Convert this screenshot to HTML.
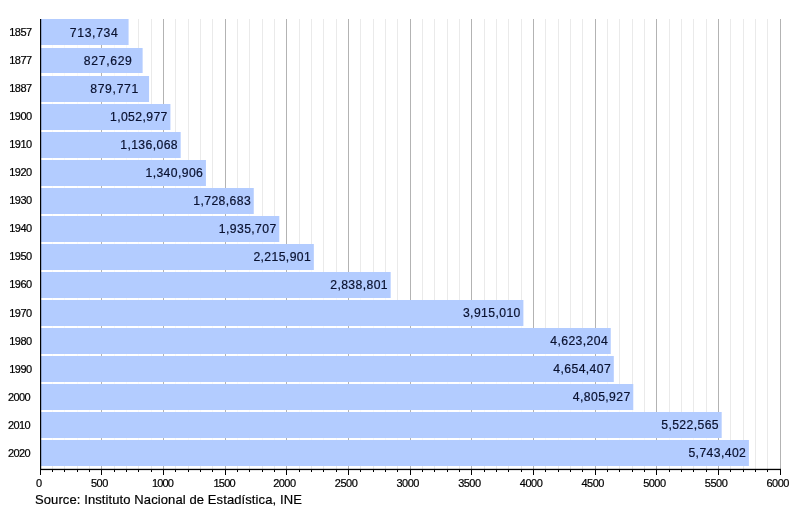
<!DOCTYPE html>
<html><head><meta charset="utf-8"><title>Population</title>
<style>
html,body{margin:0;padding:0;background:#fff;}
body{width:800px;height:508px;overflow:hidden;}
svg{display:block;}
text{font-family:"Liberation Sans",Arial,sans-serif;fill:#000;stroke:#000;stroke-width:0.2px;}
.yl{font-size:11px;letter-spacing:-0.55px;}
.xl{font-size:11px;letter-spacing:-0.5px;}
.vl{font-size:12.2px;letter-spacing:0.4px;fill:#0a1230;stroke:#0a1230;}
.src{font-size:13px;letter-spacing:0.1px;}
</style></head><body>
<svg width="800" height="508" viewBox="0 0 800 508">
<rect width="800" height="508" fill="#fff"/>

<g shape-rendering="crispEdges">
<rect x="52" y="19" width="1" height="450" fill="#eaeaea"/>
<rect x="64" y="19" width="1" height="450" fill="#eaeaea"/>
<rect x="77" y="19" width="1" height="450" fill="#eaeaea"/>
<rect x="89" y="19" width="1" height="450" fill="#eaeaea"/>
<rect x="114" y="19" width="1" height="450" fill="#eaeaea"/>
<rect x="126" y="19" width="1" height="450" fill="#eaeaea"/>
<rect x="138" y="19" width="1" height="450" fill="#eaeaea"/>
<rect x="151" y="19" width="1" height="450" fill="#eaeaea"/>
<rect x="175" y="19" width="1" height="450" fill="#eaeaea"/>
<rect x="188" y="19" width="1" height="450" fill="#eaeaea"/>
<rect x="200" y="19" width="1" height="450" fill="#eaeaea"/>
<rect x="212" y="19" width="1" height="450" fill="#eaeaea"/>
<rect x="237" y="19" width="1" height="450" fill="#eaeaea"/>
<rect x="249" y="19" width="1" height="450" fill="#eaeaea"/>
<rect x="262" y="19" width="1" height="450" fill="#eaeaea"/>
<rect x="274" y="19" width="1" height="450" fill="#eaeaea"/>
<rect x="299" y="19" width="1" height="450" fill="#eaeaea"/>
<rect x="311" y="19" width="1" height="450" fill="#eaeaea"/>
<rect x="323" y="19" width="1" height="450" fill="#eaeaea"/>
<rect x="336" y="19" width="1" height="450" fill="#eaeaea"/>
<rect x="360" y="19" width="1" height="450" fill="#eaeaea"/>
<rect x="373" y="19" width="1" height="450" fill="#eaeaea"/>
<rect x="385" y="19" width="1" height="450" fill="#eaeaea"/>
<rect x="397" y="19" width="1" height="450" fill="#eaeaea"/>
<rect x="422" y="19" width="1" height="450" fill="#eaeaea"/>
<rect x="434" y="19" width="1" height="450" fill="#eaeaea"/>
<rect x="447" y="19" width="1" height="450" fill="#eaeaea"/>
<rect x="459" y="19" width="1" height="450" fill="#eaeaea"/>
<rect x="484" y="19" width="1" height="450" fill="#eaeaea"/>
<rect x="496" y="19" width="1" height="450" fill="#eaeaea"/>
<rect x="508" y="19" width="1" height="450" fill="#eaeaea"/>
<rect x="521" y="19" width="1" height="450" fill="#eaeaea"/>
<rect x="545" y="19" width="1" height="450" fill="#eaeaea"/>
<rect x="558" y="19" width="1" height="450" fill="#eaeaea"/>
<rect x="570" y="19" width="1" height="450" fill="#eaeaea"/>
<rect x="582" y="19" width="1" height="450" fill="#eaeaea"/>
<rect x="607" y="19" width="1" height="450" fill="#eaeaea"/>
<rect x="619" y="19" width="1" height="450" fill="#eaeaea"/>
<rect x="632" y="19" width="1" height="450" fill="#eaeaea"/>
<rect x="644" y="19" width="1" height="450" fill="#eaeaea"/>
<rect x="669" y="19" width="1" height="450" fill="#eaeaea"/>
<rect x="681" y="19" width="1" height="450" fill="#eaeaea"/>
<rect x="693" y="19" width="1" height="450" fill="#eaeaea"/>
<rect x="706" y="19" width="1" height="450" fill="#eaeaea"/>
<rect x="730" y="19" width="1" height="450" fill="#eaeaea"/>
<rect x="743" y="19" width="1" height="450" fill="#eaeaea"/>
<rect x="755" y="19" width="1" height="450" fill="#eaeaea"/>
<rect x="767" y="19" width="1" height="450" fill="#eaeaea"/>
</g>
<g fill="#fff" fill-opacity="0.7">
<rect x="41" y="45" width="87.58" height="3"/>
<rect x="41" y="73" width="101.62" height="3"/>
<rect x="41" y="102" width="108.06" height="2"/>
<rect x="41" y="130" width="129.42" height="2"/>
<rect x="41" y="158" width="139.67" height="2"/>
<rect x="41" y="186" width="164.93" height="2"/>
<rect x="41" y="214" width="212.75" height="2"/>
<rect x="41" y="242" width="238.29" height="2"/>
<rect x="41" y="270" width="272.84" height="2"/>
<rect x="41" y="298" width="349.67" height="2"/>
<rect x="41" y="326" width="482.40" height="2"/>
<rect x="41" y="354" width="569.75" height="2"/>
<rect x="41" y="382" width="572.79" height="2"/>
<rect x="41" y="410" width="592.28" height="2"/>
<rect x="41" y="438" width="680.67" height="2"/>
</g>
<g shape-rendering="crispEdges">
<rect x="101" y="19" width="1" height="450" fill="#b3b3b3"/>
<rect x="163" y="19" width="1" height="450" fill="#b3b3b3"/>
<rect x="225" y="19" width="1" height="450" fill="#b3b3b3"/>
<rect x="286" y="19" width="1" height="450" fill="#b3b3b3"/>
<rect x="348" y="19" width="1" height="450" fill="#b3b3b3"/>
<rect x="410" y="19" width="1" height="450" fill="#b3b3b3"/>
<rect x="471" y="19" width="1" height="450" fill="#b3b3b3"/>
<rect x="533" y="19" width="1" height="450" fill="#b3b3b3"/>
<rect x="595" y="19" width="1" height="450" fill="#b3b3b3"/>
<rect x="656" y="19" width="1" height="450" fill="#b3b3b3"/>
<rect x="718" y="19" width="1" height="450" fill="#b3b3b3"/>
<rect x="780" y="19" width="1" height="450" fill="#b3b3b3"/>
</g>
<g fill="#b3ccff">
<rect x="41" y="19" width="87.58" height="26"/>
<rect x="41" y="48" width="101.62" height="25"/>
<rect x="41" y="76" width="108.06" height="26"/>
<rect x="41" y="104" width="129.42" height="26"/>
<rect x="41" y="132" width="139.67" height="26"/>
<rect x="41" y="160" width="164.93" height="26"/>
<rect x="41" y="188" width="212.75" height="26"/>
<rect x="41" y="216" width="238.29" height="26"/>
<rect x="41" y="244" width="272.84" height="26"/>
<rect x="41" y="272" width="349.67" height="26"/>
<rect x="41" y="300" width="482.40" height="26"/>
<rect x="41" y="328" width="569.75" height="26"/>
<rect x="41" y="356" width="572.79" height="26"/>
<rect x="41" y="384" width="592.28" height="26"/>
<rect x="41" y="412" width="680.67" height="26"/>
<rect x="41" y="440" width="707.90" height="26"/>
</g>
<rect x="40" y="19" width="1.2" height="451" fill="#000"/>
<rect x="40" y="468.8" width="741" height="1.3" fill="#000"/>
<g shape-rendering="crispEdges" fill="#000">
<rect x="40" y="469" width="1" height="6"/>
<rect x="52" y="469" width="1" height="3"/>
<rect x="64" y="469" width="1" height="3"/>
<rect x="77" y="469" width="1" height="3"/>
<rect x="89" y="469" width="1" height="3"/>
<rect x="101" y="469" width="1" height="6"/>
<rect x="114" y="469" width="1" height="3"/>
<rect x="126" y="469" width="1" height="3"/>
<rect x="138" y="469" width="1" height="3"/>
<rect x="151" y="469" width="1" height="3"/>
<rect x="163" y="469" width="1" height="6"/>
<rect x="175" y="469" width="1" height="3"/>
<rect x="188" y="469" width="1" height="3"/>
<rect x="200" y="469" width="1" height="3"/>
<rect x="212" y="469" width="1" height="3"/>
<rect x="225" y="469" width="1" height="6"/>
<rect x="237" y="469" width="1" height="3"/>
<rect x="249" y="469" width="1" height="3"/>
<rect x="262" y="469" width="1" height="3"/>
<rect x="274" y="469" width="1" height="3"/>
<rect x="286" y="469" width="1" height="6"/>
<rect x="299" y="469" width="1" height="3"/>
<rect x="311" y="469" width="1" height="3"/>
<rect x="323" y="469" width="1" height="3"/>
<rect x="336" y="469" width="1" height="3"/>
<rect x="348" y="469" width="1" height="6"/>
<rect x="360" y="469" width="1" height="3"/>
<rect x="373" y="469" width="1" height="3"/>
<rect x="385" y="469" width="1" height="3"/>
<rect x="397" y="469" width="1" height="3"/>
<rect x="410" y="469" width="1" height="6"/>
<rect x="422" y="469" width="1" height="3"/>
<rect x="434" y="469" width="1" height="3"/>
<rect x="447" y="469" width="1" height="3"/>
<rect x="459" y="469" width="1" height="3"/>
<rect x="471" y="469" width="1" height="6"/>
<rect x="484" y="469" width="1" height="3"/>
<rect x="496" y="469" width="1" height="3"/>
<rect x="508" y="469" width="1" height="3"/>
<rect x="521" y="469" width="1" height="3"/>
<rect x="533" y="469" width="1" height="6"/>
<rect x="545" y="469" width="1" height="3"/>
<rect x="558" y="469" width="1" height="3"/>
<rect x="570" y="469" width="1" height="3"/>
<rect x="582" y="469" width="1" height="3"/>
<rect x="595" y="469" width="1" height="6"/>
<rect x="607" y="469" width="1" height="3"/>
<rect x="619" y="469" width="1" height="3"/>
<rect x="632" y="469" width="1" height="3"/>
<rect x="644" y="469" width="1" height="3"/>
<rect x="656" y="469" width="1" height="6"/>
<rect x="669" y="469" width="1" height="3"/>
<rect x="681" y="469" width="1" height="3"/>
<rect x="693" y="469" width="1" height="3"/>
<rect x="706" y="469" width="1" height="3"/>
<rect x="718" y="469" width="1" height="6"/>
<rect x="730" y="469" width="1" height="3"/>
<rect x="743" y="469" width="1" height="3"/>
<rect x="755" y="469" width="1" height="3"/>
<rect x="767" y="469" width="1" height="3"/>
<rect x="780" y="469" width="1" height="6"/>
</g>
<text class="yl" x="9.3" y="36.00">1857</text>
<text class="vl" style="letter-spacing:0.68px" x="69.73" y="36.80">713,734</text>
<text class="yl" x="9.3" y="64.05">1877</text>
<text class="vl" style="letter-spacing:0.68px" x="83.77" y="64.84">827,629</text>
<text class="yl" x="9.3" y="92.10">1887</text>
<text class="vl" style="letter-spacing:0.68px" x="90.21" y="92.88">879,771</text>
<text class="yl" x="9.3" y="120.15">1900</text>
<text class="vl" style="letter-spacing:0.4px" x="109.97" y="120.92">1,052,977</text>
<text class="yl" x="9.3" y="148.20">1910</text>
<text class="vl" style="letter-spacing:0.4px" x="120.22" y="148.96">1,136,068</text>
<text class="yl" x="9.3" y="176.25">1920</text>
<text class="vl" style="letter-spacing:0.4px" x="145.48" y="177.00">1,340,906</text>
<text class="yl" x="9.3" y="204.30">1930</text>
<text class="vl" style="letter-spacing:0.4px" x="193.30" y="205.04">1,728,683</text>
<text class="yl" x="9.3" y="232.35">1940</text>
<text class="vl" style="letter-spacing:0.4px" x="218.84" y="233.08">1,935,707</text>
<text class="yl" x="9.3" y="260.40">1950</text>
<text class="vl" style="letter-spacing:0.4px" x="253.39" y="261.12">2,215,901</text>
<text class="yl" x="9.3" y="288.45">1960</text>
<text class="vl" style="letter-spacing:0.4px" x="330.22" y="289.16">2,838,801</text>
<text class="yl" x="9.3" y="316.50">1970</text>
<text class="vl" style="letter-spacing:0.4px" x="462.95" y="317.20">3,915,010</text>
<text class="yl" x="9.3" y="344.55">1980</text>
<text class="vl" style="letter-spacing:0.4px" x="550.30" y="345.24">4,623,204</text>
<text class="yl" x="9.3" y="372.60">1990</text>
<text class="vl" style="letter-spacing:0.4px" x="553.34" y="373.28">4,654,407</text>
<text class="yl" x="7.9" y="400.65">2000</text>
<text class="vl" style="letter-spacing:0.4px" x="572.83" y="401.32">4,805,927</text>
<text class="yl" x="7.9" y="428.70">2010</text>
<text class="vl" style="letter-spacing:0.4px" x="661.22" y="429.36">5,522,565</text>
<text class="yl" x="7.9" y="456.75">2020</text>
<text class="vl" style="letter-spacing:0.4px" x="688.45" y="457.40">5,743,402</text>
<text class="xl" x="38.90" y="487" text-anchor="middle">0</text>
<text class="xl" x="99.37" y="487" text-anchor="middle">500</text>
<text class="xl" style="letter-spacing:-0.8px" x="162.53" y="487" text-anchor="middle">1000</text>
<text class="xl" style="letter-spacing:-0.8px" x="224.20" y="487" text-anchor="middle">1500</text>
<text class="xl" x="284.37" y="487" text-anchor="middle">2000</text>
<text class="xl" x="346.03" y="487" text-anchor="middle">2500</text>
<text class="xl" x="407.70" y="487" text-anchor="middle">3000</text>
<text class="xl" x="469.37" y="487" text-anchor="middle">3500</text>
<text class="xl" x="531.03" y="487" text-anchor="middle">4000</text>
<text class="xl" x="592.70" y="487" text-anchor="middle">4500</text>
<text class="xl" x="654.37" y="487" text-anchor="middle">5000</text>
<text class="xl" x="716.03" y="487" text-anchor="middle">5500</text>
<text class="xl" x="777.70" y="487" text-anchor="middle">6000</text>
<text class="src" x="35" y="503.6">Source: Instituto Nacional de Estadística, INE</text>
</svg></body></html>
